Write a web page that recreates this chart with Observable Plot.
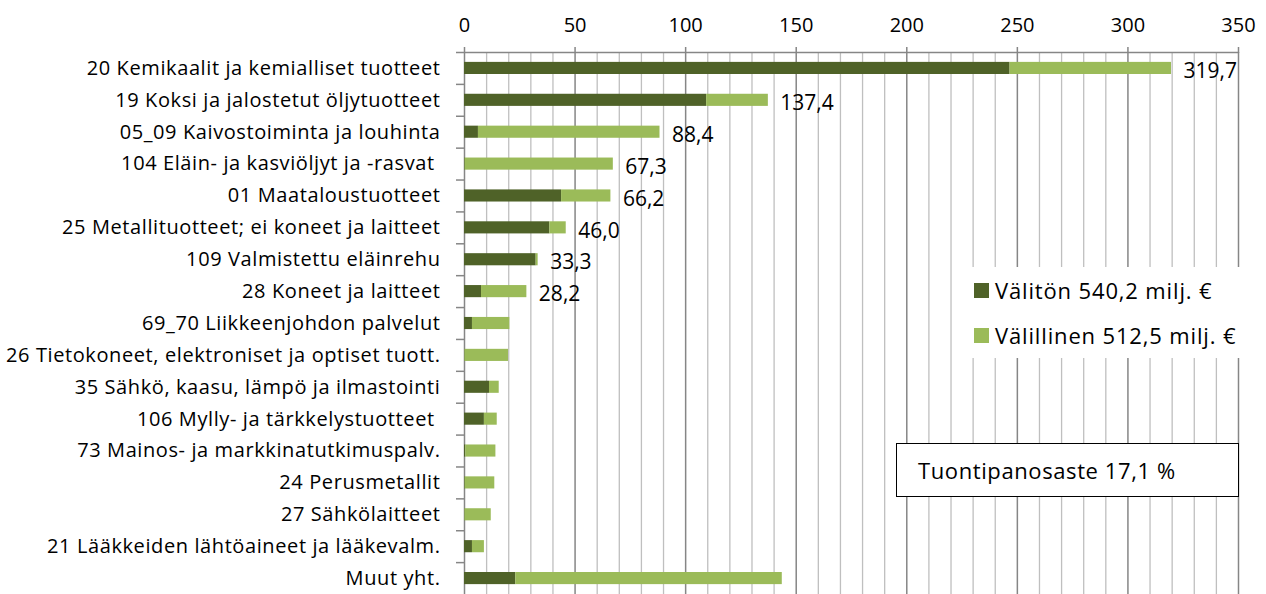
<!DOCTYPE html>
<html><head><meta charset="utf-8">
<script src="https://cdn.jsdelivr.net/npm/d3@7"></script>
<script src="https://cdn.jsdelivr.net/npm/@observablehq/plot@0.6"></script>
<style>body{margin:0;background:#fff} #chart{position:relative;width:1266px;height:594px}</style>
</head><body><div id="chart"></div>
<script>
const categories = [
  "20 Kemikaalit ja kemialliset tuotteet",
  "19 Koksi ja jalostetut öljytuotteet",
  "05_09 Kaivostoiminta ja louhinta",
  "104 Eläin- ja kasviöljyt ja -rasvat ",
  "01 Maataloustuotteet",
  "25 Metallituotteet; ei koneet ja laitteet",
  "109 Valmistettu eläinrehu",
  "28 Koneet ja laitteet",
  "69_70 Liikkeenjohdon palvelut",
  "26 Tietokoneet, elektroniset ja optiset tuott.",
  "35 Sähkö, kaasu, lämpö ja ilmastointi",
  "106 Mylly- ja tärkkelystuotteet ",
  "73 Mainos- ja markkinatutkimuspalv.",
  "24 Perusmetallit",
  "27 Sähkölaitteet",
  "21 Lääkkeiden lähtöaineet ja lääkevalm.",
  "Muut yht."
];
const direct   = [246.7, 109.5, 6.3, 0.3, 43.9, 38.6, 32.4, 7.7, 3.6, 0.2, 11.3, 9.0, 0.6, 0.3, 0.2, 3.6, 23.2];
const indirect = [73.0, 27.9, 82.1, 67.0, 22.3, 7.4, 0.9, 20.5, 16.9, 19.7, 4.4, 5.8, 13.6, 13.4, 11.9, 5.4, 120.5];
const seriesKeys = ["Välitön", "Välillinen"];
const seriesLabels = ["Välitön 540,2 milj. €", "Välillinen 512,5 milj. €"];
const xTicks = [0, 50, 100, 150, 200, 250, 300, 350];
const labelledRows = 8;
const noteText = "Tuontipanosaste 17,1 %";

const FONT = "'Open Sans', Lato, sans-serif";
const colors = ["#4F6228", "#9BBB59"];
const W = 1266, H = 594, mT = 52, mL = 464, mR = 28, mB = 0;
const step = (H - mT - mB) / categories.length;
const pxPerUnit = (W - mL - mR) / 350;

const rows = [];
categories.forEach((c, i) => rows.push({cat: c, type: seriesKeys[0], value: direct[i]}));
categories.forEach((c, i) => rows.push({cat: c, type: seriesKeys[1], value: indirect[i]}));
const totals = categories.map((c, i) => ({cat: c, total: +(direct[i] + indirect[i]).toFixed(1), i}));
const labelled = totals.filter(d => d.i < labelledRows);
const grid = d3.range(0, 351, 10);

const chart = Plot.plot({
  width: W, height: H,
  marginTop: mT, marginLeft: mL, marginRight: mR, marginBottom: mB,
  style: {fontFamily: FONT, fontSize: "20px", color: "#000", background: "#fff"},
  x: {domain: [0, 350], axis: null},
  y: {domain: categories, paddingInner: 0.62, paddingOuter: 0.31, round: false, axis: null},
  color: {domain: seriesKeys, range: colors},
  marks: [
    Plot.ruleX(grid.filter(v => v % 50 !== 0), {x: d => d, stroke: "#BFBFBF", strokeWidth: 1.3}),
    Plot.ruleX(grid.filter(v => v % 50 === 0 && v > 0), {x: d => d, stroke: "#868686", strokeWidth: 1.5}),
    Plot.ruleX([0], {x: d => d, stroke: "#868686", strokeWidth: 1.5}),
    Plot.ruleY([categories[0]], {y: d => d, dy: -step / 2, x1: 0, x2: 350, stroke: "#868686", strokeWidth: 1.5}),
    Plot.ruleY(categories, {y: d => d, dy: -step / 2, x1: -8 / pxPerUnit, x2: 0, stroke: "#868686", strokeWidth: 1.5}),
    Plot.axisX({anchor: "top", ticks: xTicks, tickSize: 6, tickPadding: 15, tickFormat: d => String(d), fontSize: 20, stroke: "#868686", strokeWidth: 1.5, label: null}),
    Plot.axisY({tickSize: 0, tickPadding: 24, fontSize: 20, label: null}),
    Plot.barX(rows, {y: "cat", x: "value", fill: "type"}),
    Plot.text(labelled, {y: "cat", x: "total", text: d => d.total.toFixed(1).replace(".", ","), textAnchor: "start", dx: 12, dy: 3, fontSize: 21, fill: "#000"})
  ]
});
document.getElementById("chart").append(chart);

const svg = d3.select(chart);
// widen the category labels slightly (Calibri-like spacing)
svg.selectAll('g[aria-label="y-axis tick label"] text').style("letter-spacing", "0.6px");

// Legend (inside the plot area) and annotation box
const lg = svg.append("g").attr("text-anchor", "start").attr("font-family", FONT).attr("font-size", 22).style("letter-spacing", "0.85px");
lg.append("rect").attr("x", 968).attr("y", 267).attr("width", 282).attr("height", 91).style("fill", "#fff").style("stroke", "none");
seriesLabels.forEach((lab, i) => {
  const y = 283 + i * 45;
  lg.append("rect").attr("x", 974).attr("y", y).attr("width", 15).attr("height", 15).style("fill", colors[i]);
  lg.append("text").attr("x", 995).attr("y", y + 8).attr("dy", "0.35em")
    .style("text-anchor", "start").style("fill", "#000").text(lab);
});
const nb = svg.append("g").attr("text-anchor", "start").attr("font-family", FONT).attr("font-size", 22).style("letter-spacing", "0.6px");
nb.append("rect").attr("x", 896.5).attr("y", 443.5).attr("width", 342).attr("height", 53)
  .style("fill", "#fff").style("stroke", "#000").style("stroke-width", 1);
nb.append("text").attr("x", 918).attr("y", 471).attr("dy", "0.35em").style("text-anchor", "start").style("fill", "#000").text(noteText);
</script>
</body></html>
